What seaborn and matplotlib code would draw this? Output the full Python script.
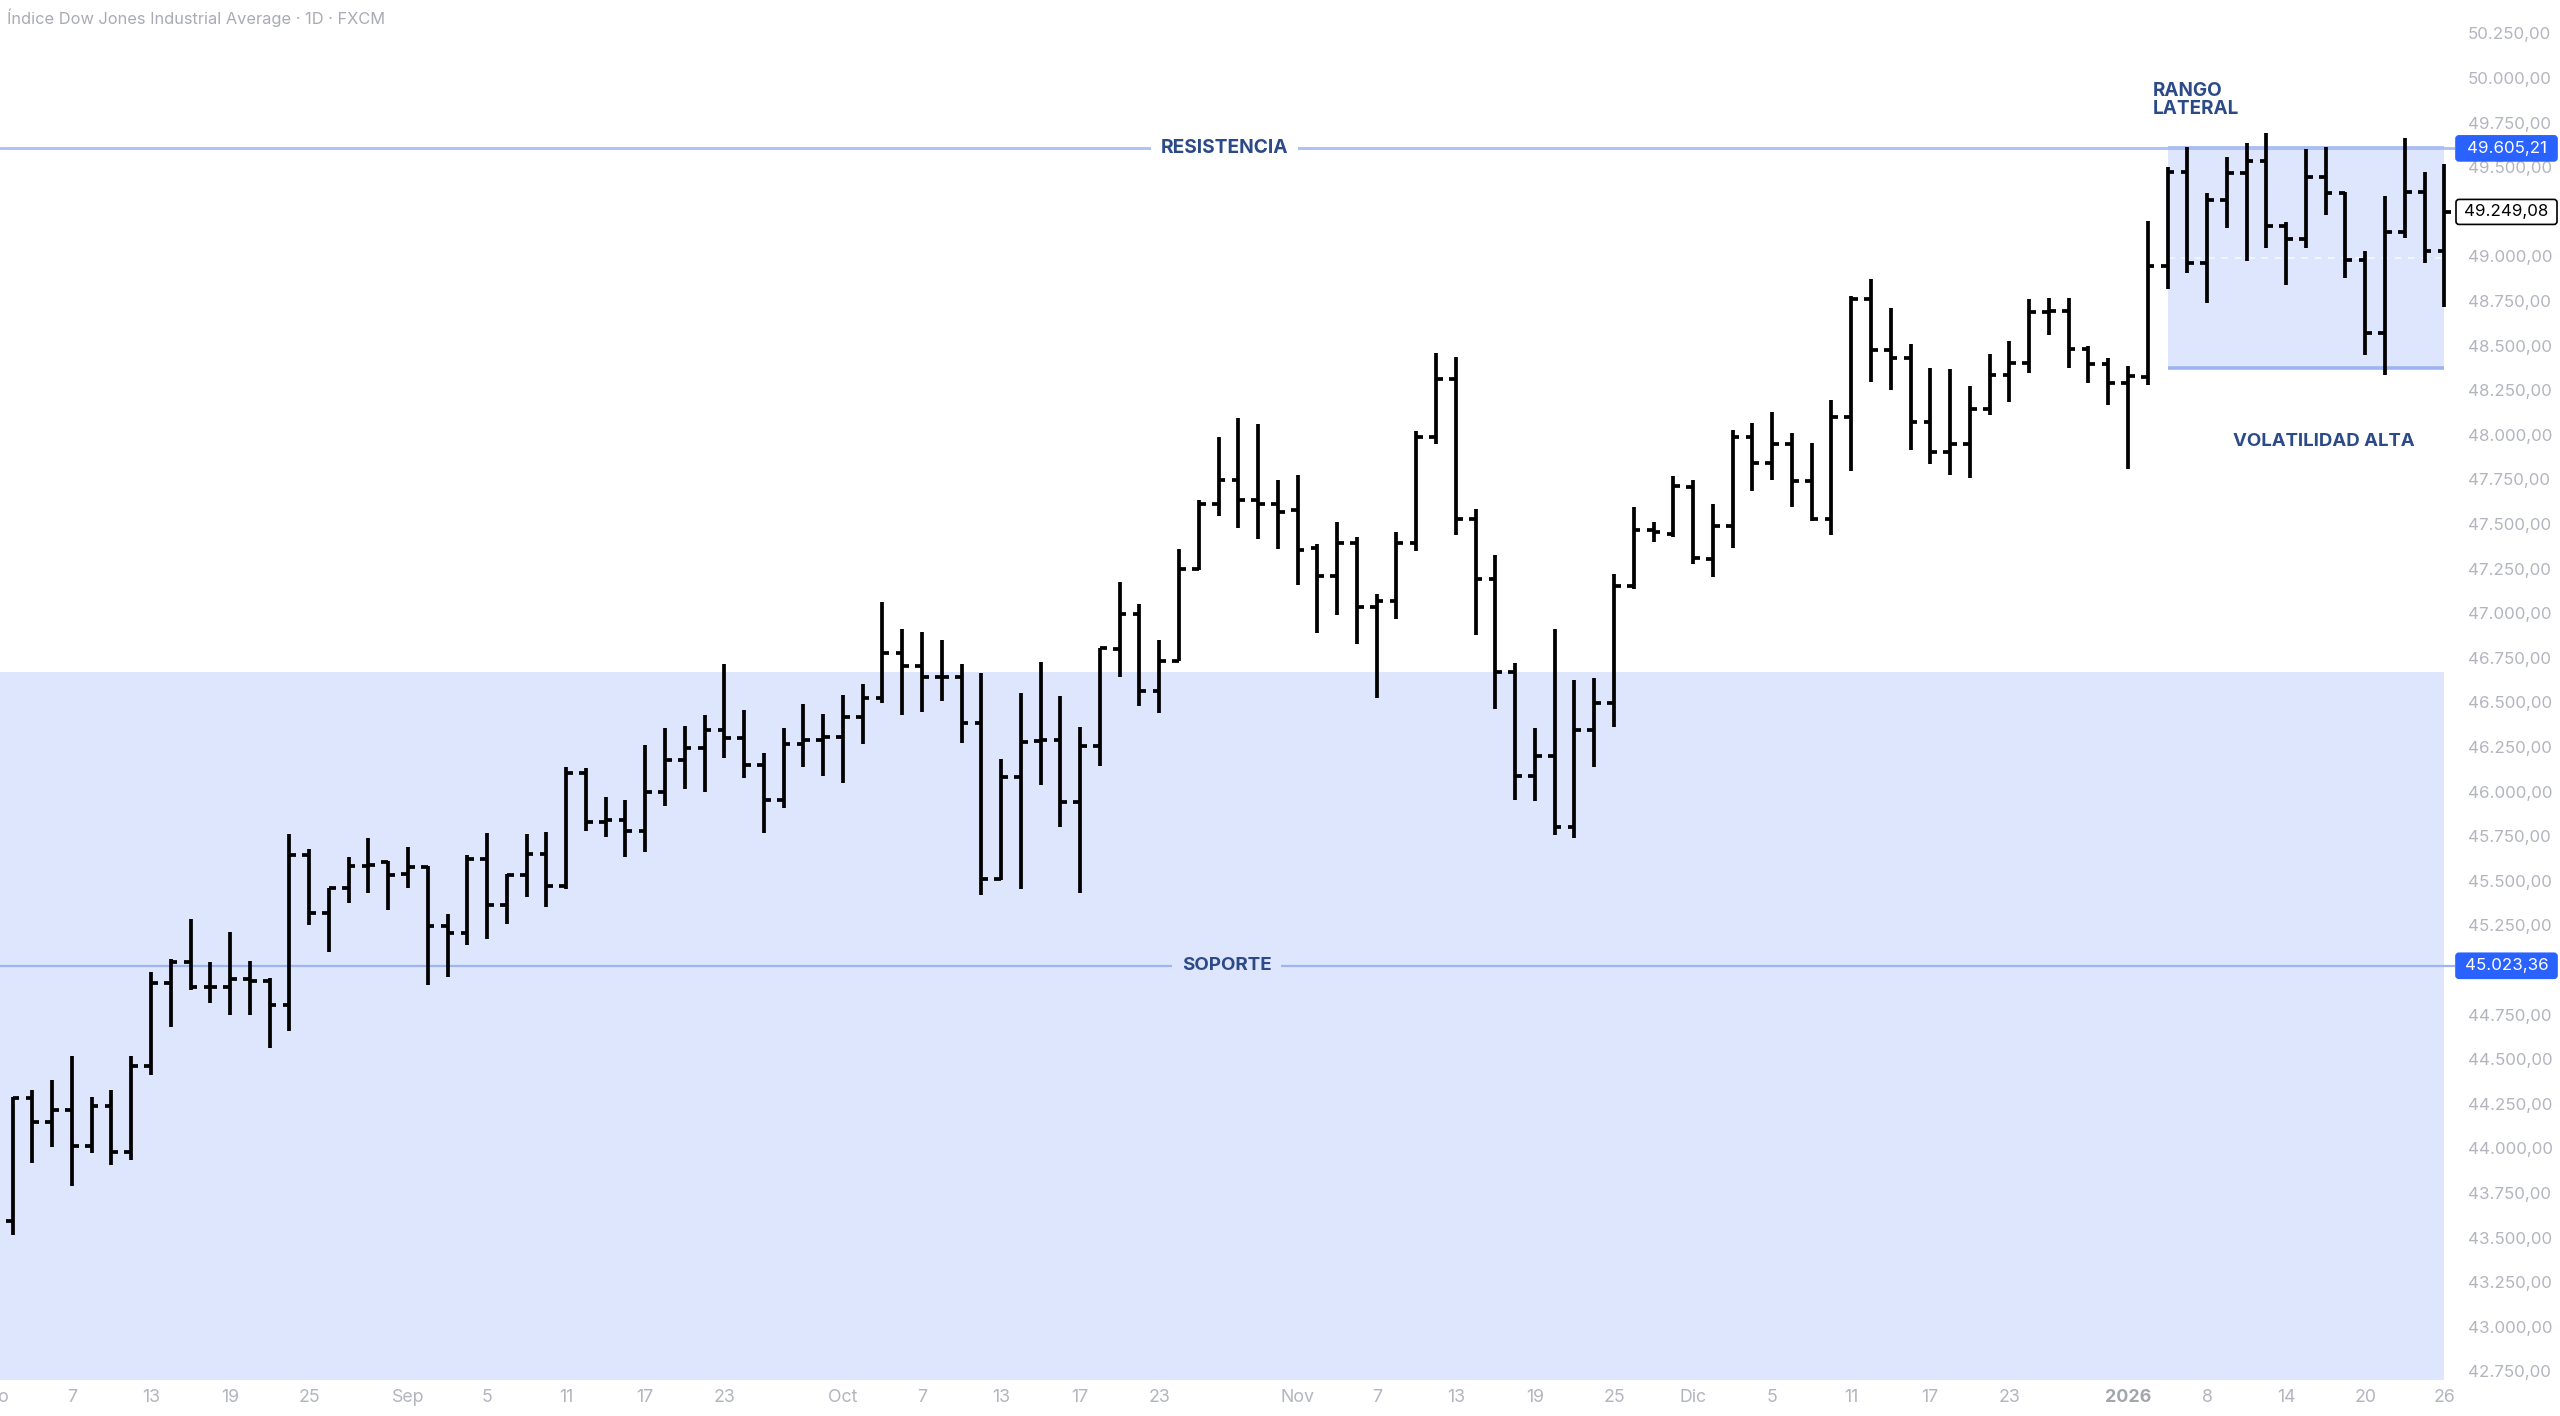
import numpy as np
import pandas as pd
import matplotlib
matplotlib.use("Agg")
import matplotlib.pyplot as plt
import seaborn as sns
from matplotlib.patches import FancyBboxPatch
from matplotlib.transforms import IdentityTransform
from matplotlib.ticker import FuncFormatter

# ---------------- data ----------------
holidays = ["2025-12-25", "2026-01-01"]
dates = [d for d in pd.bdate_range("2025-08-01", "2026-01-26")
         if d.strftime("%Y-%m-%d") not in holidays]

open_ = [44120, 43590, 44280, 44150, 44215, 44013, 44237, 43981, 44462, 44929,
         45046, 44903, 44903, 44947, 44940, 44804, 45644, 45317, 45458, 45583,
         45607, 45537, 45579, 45246, 45205, 45620, 45364, 45532, 45650, 45470,
         46102, 45831, 45840, 45781, 45999, 46177, 46242, 46345, 46298, 46149,
         45953, 46266, 46289, 46307, 46420, 46526, 46775, 46706, 46640, 46644,
         46382, 45508, 46080, 46285, 46289, 45943, 46255, 46797, 46993, 46564,
         46732, 47246, 47612, 47746, 47634, 47612, 47577, 47363, 47210, 47395,
         47033, 47070, 47395, 47985, 48310, 47528, 47191, 46672, 46087, 46201,
         45803, 46345, 46498, 47154, 47466, 47444, 47705, 47302, 47488, 47985,
         47843, 47946, 47742, 47526, 48101, 48759, 48475, 48432, 48073, 47901,
         47948, 48142, 48335, 48400, 48690, 48695, 48479, 48398, 48290, 48325,
         48946, 49474, 48964, 49316, 49465, 49536, 49170, 49095, 49446, 49357,
         48979, 48572, 49134, 49359, 49030]
high = [44170, 44290, 44327, 44383, 44518, 44286, 44327, 44518, 44990, 45060,
        45284, 45046, 45215, 45052, 44953, 45762, 45676, 45458, 45631, 45738,
        45613, 45691, 45583, 45312, 45644, 45766, 45538, 45762, 45775, 46136,
        46130, 45971, 45953, 46259, 46354, 46367, 46429, 46715, 46457, 46214,
        46354, 46491, 46435, 46543, 46603, 47064, 46909, 46892, 46849, 46713,
        46666, 46181, 46550, 46728, 46536, 46360, 46803, 47176, 47049, 46849,
        47358, 47634, 47989, 48092, 48060, 47746, 47775, 47387, 47509, 47429,
        47105, 47453, 48021, 48460, 48437, 47582, 47326, 46722, 46358, 46909,
        46625, 46635, 47217, 47597, 47509, 47770, 47747, 47610, 48026, 48068,
        48125, 48008, 47955, 48195, 48779, 48871, 48708, 48509, 48376, 48366,
        48275, 48452, 48525, 48761, 48768, 48768, 48497, 48428, 48383, 49198,
        49502, 49615, 49357, 49559, 49637, 49689, 49194, 49600, 49615, 49362,
        49032, 49340, 49661, 49474, 49516]
low = [43480, 43514, 43920, 44009, 43789, 43976, 43907, 43935, 44411, 44678,
       44888, 44817, 44746, 44750, 44561, 44660, 45252, 45103, 45373, 45429,
       45336, 45457, 44916, 44959, 45140, 45173, 45257, 45411, 45355, 45452,
       45781, 45743, 45635, 45663, 45921, 46012, 45995, 46186, 46074, 45766,
       45906, 46136, 46089, 46048, 46266, 46494, 46429, 46448, 46509, 46270,
       45420, 45504, 45452, 46037, 45799, 45433, 46145, 46644, 46480, 46442,
       46732, 47242, 47544, 47475, 47414, 47358, 47160, 46891, 46990, 46825,
       46522, 46965, 47350, 47946, 47438, 46877, 46463, 45953, 45947, 45756,
       45742, 46139, 46364, 47133, 47401, 47429, 47278, 47201, 47363, 47686,
       47746, 47597, 47516, 47438, 47798, 48297, 48251, 47914, 47834, 47774,
       47756, 48111, 48185, 48348, 48559, 48372, 48292, 48167, 47809, 48279,
       48815, 48908, 48736, 49157, 48976, 49048, 48839, 49048, 49231, 48877,
       48447, 48335, 49104, 48961, 48718]
close = [43590, 44280, 44150, 44215, 44013, 44237, 43981, 44462, 44929, 45046,
         44903, 44903, 44947, 44940, 44804, 45644, 45317, 45458, 45583, 45588,
         45532, 45575, 45246, 45205, 45620, 45364, 45532, 45650, 45470, 46102,
         45831, 45840, 45781, 45999, 46177, 46242, 46345, 46298, 46149, 45953,
         46266, 46289, 46307, 46418, 46526, 46775, 46706, 46640, 46644, 46382,
         45508, 46080, 46280, 46289, 45943, 46255, 46803, 46993, 46564, 46732,
         47246, 47612, 47746, 47634, 47612, 47569, 47354, 47210, 47395, 47033,
         47070, 47395, 47985, 48310, 47528, 47191, 46672, 46087, 46201, 45803,
         46345, 46498, 47154, 47466, 47457, 47714, 47311, 47488, 47985, 47843,
         47946, 47742, 47526, 48101, 48759, 48475, 48428, 48073, 47901, 47948,
         48142, 48335, 48400, 48690, 48695, 48479, 48396, 48290, 48327, 48946,
         49474, 48964, 49316, 49465, 49536, 49170, 49095, 49446, 49357, 48979,
         48572, 49134, 49359, 49030, 49249.08]

tick_dates = ["2025-08-01", "2025-08-07", "2025-08-13", "2025-08-19", "2025-08-25",
              "2025-09-01", "2025-09-05", "2025-09-11", "2025-09-17", "2025-09-23",
              "2025-10-01", "2025-10-07", "2025-10-13", "2025-10-17", "2025-10-23",
              "2025-11-03", "2025-11-07", "2025-11-13", "2025-11-19", "2025-11-25",
              "2025-12-01", "2025-12-05", "2025-12-11", "2025-12-17", "2025-12-23",
              "2026-01-02", "2026-01-08", "2026-01-14", "2026-01-20", "2026-01-26"]
tick_labels = ["Ago", "7", "13", "19", "25", "Sep", "5", "11", "17", "23",
               "Oct", "7", "13", "17", "23", "Nov", "7", "13", "19", "25",
               "Dic", "5", "11", "17", "23", "2026", "8", "14", "20", "26"]

resistance = 49605.21
support = 45023.36
support_zone_top = 46670
support_zone_end = "2026-01-26"
range_top = 49605.21
range_bottom = 48376
range_start = "2026-01-06"
range_end = "2026-01-26"
last_close = close[-1]
title = "Índice Dow Jones Industrial Average · 1D · FXCM"

# ---------------- helpers ----------------
date_str = [d.strftime("%Y-%m-%d") for d in dates]
pos = {s: i for i, s in enumerate(date_str)}


def fmt(v):
    return f"{v:,.2f}".replace(",", "X").replace(".", ",").replace("X", ".")


TICK_W = 0.34
rows = []
for i in range(len(dates)):
    rows += [(i, low[i], f"w{i}"), (i, high[i], f"w{i}"),
             (i - TICK_W, open_[i], f"o{i}"), (i, open_[i], f"o{i}"),
             (i, close[i], f"c{i}"), (i + TICK_W, close[i], f"c{i}")]
bars = pd.DataFrame(rows, columns=["x", "price", "seg"])

# ---------------- figure ----------------
sns.set_theme(style="white")
plt.rcParams["font.family"] = ["Inter", "DejaVu Sans"]

W, H = 2560, 1416
fig = plt.figure(figsize=(W / 100, H / 100), dpi=100)
fig.patch.set_facecolor("white")
ax = fig.add_axes([0, 37 / H, 2455 / W, 1379 / H])
ax.set_facecolor("white")

ax.set_xlim(0.364, 124.54)
ax.set_ylim(42707, 50437)

shade = "#dee6fd"
text_blue = "#2b4a87"
axis_grey = "#b2b5be"

# support zone
ax.fill_between([-5, pos[support_zone_end]], 40000, support_zone_top,
                color=shade, lw=0, zorder=0)
# range rectangle
rs, re_ = pos[range_start], pos[range_end]
ax.fill_between([rs, re_], range_bottom, range_top, color=shade, lw=0, zorder=0.5)
ax.hlines([range_top, range_bottom], rs, re_, color="#9db4f4", lw=2.6, zorder=1)
ax.hlines((range_top + range_bottom) / 2, rs, re_, color="#f4f7ff", lw=1.2,
          linestyles=(0, (4, 4)), zorder=1)

# horizontal levels
ax.axhline(resistance, color="#aabff6", lw=2.0, zorder=1)
ax.axhline(support, color="#9fb5f0", lw=1.6, zorder=1)

# OHLC bars via seaborn
sns.lineplot(data=bars, x="x", y="price", units="seg", estimator=None, sort=False,
             color="black", lw=2.7, solid_capstyle="butt", legend=False,
             ax=ax, zorder=3)
ax.set_xlabel("")
ax.set_ylabel("")

for s in ax.spines.values():
    s.set_visible(False)
ax.grid(False)

# y axis on the right (labels hidden completely by price tags are left blank)
hidden = [round(support / 250) * 250, round(last_close / 250) * 250]
ax.yaxis.tick_right()
ax.set_yticks(np.arange(42750, 50251, 250))
ax.yaxis.set_major_formatter(
    FuncFormatter(lambda v, p: "" if round(v) in hidden else fmt(v)))
ax.tick_params(axis="y", length=0, pad=9.4, labelsize=12.2, labelcolor=axis_grey)

# x axis labels
in_view = [(pos[d], l) for d, l in zip(tick_dates, tick_labels) if pos[d] >= 0.364]
ax.set_xticks([p for p, _ in in_view])
ax.set_xticklabels([l for _, l in in_view])
ax.tick_params(axis="x", length=0, pad=7.5, labelsize=12.8, labelcolor=axis_grey)
for t in ax.get_xticklabels():
    if t.get_text() == "2026":
        t.set_fontweight("bold")
        t.set_color("#a2a5ac")
# partially visible first label
for d, l in zip(tick_dates, tick_labels):
    if pos[d] < 0.364:
        ax.annotate(l, xy=(pos[d], 0), xycoords=("data", "axes fraction"),
                    xytext=(0, -7.5), textcoords="offset points", ha="center",
                    va="top", fontsize=12.8, color=axis_grey, annotation_clip=False)

# annotations
ax.text(62.3, resistance, "RESISTENCIA", ha="center", va="center", fontsize=13.8,
        fontweight="bold", color=text_blue, zorder=4,
        bbox=dict(boxstyle="square,pad=0.5", fc="white", ec="none"))
ax.text(62.4, support, "SOPORTE", ha="center", va="center", fontsize=13.5,
        fontweight="bold", color=text_blue, zorder=4,
        bbox=dict(boxstyle="square,pad=0.5", fc=shade, ec="none"))
ax.text(109.25, 49876, "RANGO\nLATERAL", ha="left", va="center", fontsize=13.6,
        fontweight="bold", color=text_blue, linespacing=1.0, zorder=4)
ax.text(117.9, 47962, "VOLATILIDAD ALTA", ha="center", va="center", fontsize=13.4,
        fontweight="bold", color=text_blue, zorder=4)

# title
fig.text(7 / W, 1 - 18 / H, title, ha="left", va="center", fontsize=11.8,
         color="#a8abb3")

# price tags
x0 = ax.bbox.x1 + 1


def price_tag(value, fc, ec, tc):
    y = ax.transData.transform((0, value))[1]
    box = FancyBboxPatch((x0, y - 12.5), 101, 25,
                         boxstyle="round,pad=0,rounding_size=3",
                         transform=IdentityTransform(), fc=fc, ec=ec, lw=1.2,
                         zorder=20)
    fig.add_artist(box)
    fig.text(x0 + 50.5, y, fmt(value), transform=IdentityTransform(),
             ha="center", va="center", fontsize=12.2, color=tc, zorder=21)


price_tag(resistance, "#2962ff", "#2962ff", "white")
price_tag(support, "#2962ff", "#2962ff", "white")
price_tag(last_close, "white", "black", "black")

fig.savefig("out.png", dpi=100, facecolor="white")
